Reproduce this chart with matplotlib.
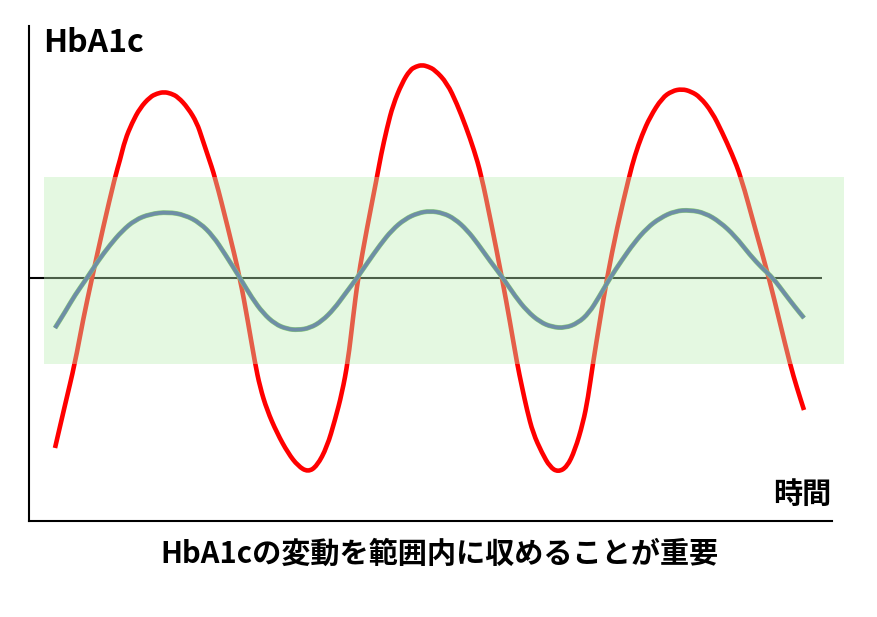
"""
HbA1c variation over time: a large swing (red) versus a swing kept
within the target range (blue-grey). The shaded band is the target range.
"""

import matplotlib
matplotlib.use('Agg')
import matplotlib.pyplot as plt
from matplotlib.path import Path
from matplotlib.patches import PathPatch

plt.rcParams['font.family'] = ['Noto Sans CJK JP', 'DejaVu Sans']

# Large swing (time, deviation from the centre line)
red_t = [2.6, 3.6, 4.6, 5.4, 6.3, 7.4, 8.6, 9.1, 9.6, 10.3, 11.1, 12.1,
         12.8, 13.5, 14.2, 14.9, 15.9, 16.8, 17.3, 17.9, 18.6, 19.9, 21.1,
         21.9, 22.6, 23.1, 23.8, 24.8, 25.9, 26.9, 27.9, 28.8, 29.8, 30.6,
         31.3, 31.9, 32.4, 32.9, 33.8, 34.8, 35.2, 35.8, 36.4, 37.3, 38.1,
         38.7, 39.3, 39.9, 40.6, 41.8, 42.8, 43.7, 44.5, 45.2, 46.2, 47.3,
         48.1, 48.8, 49.3, 49.8, 50.4, 51.3, 52.1, 52.9, 53.8, 54.6, 55.4,
         55.9, 56.4, 57.1, 57.8, 58.8, 60.0, 60.6, 61.3, 62.1, 63.3, 64.3,
         65.3, 66.2, 67.1, 68.3, 69.3, 70.3, 71.2, 72.6, 74.0, 75.1, 76.1,
         76.8, 77.5]
red_v = [-17.0, -12.7, -8.5, -4.2, 0.0, 5.0, 10.1, 11.8, 13.8, 15.5, 17.0,
         18.1, 18.45, 18.6, 18.45, 18.1, 17.0, 15.5, 14.0, 12.2, 10.1, 5.0,
         0.0, -4.4, -8.5, -10.9, -13.2, -15.5, -17.5, -18.8, -19.4, -18.8,
         -16.9, -14.2, -11.5, -8.3, -4.0, 0.0, 5.0, 10.1, 12.3, 15.0, 17.3,
         19.5, 20.8, 21.15, 21.3, 21.15, 20.8, 19.5, 17.4, 15.1, 12.8, 10.4,
         5.6, 0.0, -4.4, -8.5, -10.9, -13.2, -15.5, -17.5, -18.9, -19.4,
         -18.9, -17.2, -14.5, -12.0, -8.5, -4.2, 0.0, 5.0, 10.1, 12.3, 14.3,
         16.1, 18.0, 18.7, 18.9, 18.65, 18.1, 16.6, 14.6, 12.4, 10.1, 5.0,
         0.0, -4.5, -8.6, -11.0, -13.2]

# Small swing, kept inside the target range
blue_t = [2.6, 3.6, 4.6, 5.8, 6.9, 8.1, 9.3, 10.6, 12.1, 13.9, 15.6, 17.1,
          18.4, 19.6, 21.1, 22.3, 23.4, 24.6, 25.8, 26.9, 28.1, 29.3, 30.5,
          31.6, 32.8, 33.9, 35.1, 36.3, 37.6, 38.9, 40.1, 41.4, 42.6, 43.8,
          44.9, 46.1, 47.4, 48.6, 49.8, 51.1, 52.3, 53.6, 54.9, 56.0, 57.0,
          58.1, 59.3, 60.5, 61.8, 63.1, 64.6, 66.1, 67.6, 69.1, 70.6, 72.1,
          73.3, 74.4, 75.6, 76.6, 77.5]
blue_v = [-5.0, -3.4, -1.7, 0.0, 1.7, 3.3, 4.7, 5.8, 6.4, 6.6, 6.3, 5.5, 4.2,
          2.4, 0.0, -2.0, -3.5, -4.6, -5.1, -5.2, -5.0, -4.3, -3.1, -1.6, 0.0,
          1.6, 3.3, 4.8, 5.9, 6.5, 6.7, 6.5, 5.9, 4.8, 3.4, 1.7, 0.0, -1.8,
          -3.3, -4.4, -4.9, -5.0, -4.5, -3.5, -1.9, 0.0, 1.8, 3.5, 5.0, 6.0,
          6.7, 6.8, 6.5, 5.6, 4.2, 2.3, 1.0, 0.0, -1.6, -2.9, -4.0]

# Target range
band_t = [1.5, 81.5]
band_lo = -8.6
band_hi = 10.1


def smooth_path(xs, ys):
    # quadratic B-spline through midpoints, using the points as controls
    pts = list(zip(xs, ys))
    verts = [pts[0]]
    codes = [Path.MOVETO]
    mid = ((pts[0][0] + pts[1][0]) / 2, (pts[0][1] + pts[1][1]) / 2)
    verts.append(mid)
    codes.append(Path.LINETO)
    for i in range(1, len(pts) - 1):
        nxt = ((pts[i][0] + pts[i + 1][0]) / 2, (pts[i][1] + pts[i + 1][1]) / 2)
        verts += [pts[i], nxt]
        codes += [Path.CURVE3, Path.CURVE3]
    verts.append(pts[-1])
    codes.append(Path.LINETO)
    return Path(verts, codes)


fig = plt.figure(figsize=(8.77, 6.17), dpi=100)
ax = fig.add_axes([29 / 877, 96 / 617, 815 / 877, 495 / 617])
ax.set_xlim(0, 81.5)
ax.set_ylim(-24.3, 25.2)

# centre line, sits under the band
ax.plot([0, 79.3], [0, 0], color='black', lw=1.5, zorder=1,
        solid_capstyle='butt')

ax.add_patch(PathPatch(smooth_path(red_t, red_v), fill=False,
                       edgecolor='#ff0000', lw=3.3, zorder=2,
                       joinstyle='round', capstyle='butt'))

# band is semi-transparent so the red line shows through as salmon
ax.fill_between(band_t, band_lo, band_hi, color='#bceeb6', alpha=0.4,
                lw=0, zorder=3)

blue_path = smooth_path(blue_t, blue_v)
ax.add_patch(PathPatch(blue_path, fill=False, edgecolor='#8ccf78', lw=3.5,
                       zorder=4, joinstyle='round', capstyle='butt'))
ax.add_patch(PathPatch(blue_path, fill=False, edgecolor='#6e8ea6', lw=2.8,
                       zorder=5, joinstyle='round', capstyle='butt'))

# axes: only left and bottom
for side in ['top', 'right']:
    ax.spines[side].set_visible(False)
ax.spines['left'].set_linewidth(1.5)
ax.spines['bottom'].set_linewidth(1.5)
ax.spines['bottom'].set_bounds(0, 80.3)
ax.set_xticks([])
ax.set_yticks([])

fig.text(43 / 877, 1 - 27 / 617, 'HbA1c', fontsize=23, fontweight='bold',
         ha='left', va='top')
fig.text(831 / 877, 1 - 494 / 617, '時間', fontsize=21, fontweight='bold',
         ha='right', va='center')
fig.text(439 / 877, 1 - 554 / 617, 'HbA1cの変動を範囲内に収めることが重要',
         fontsize=21, fontweight='bold', ha='center', va='center')

fig.savefig('out.png', dpi=100)
